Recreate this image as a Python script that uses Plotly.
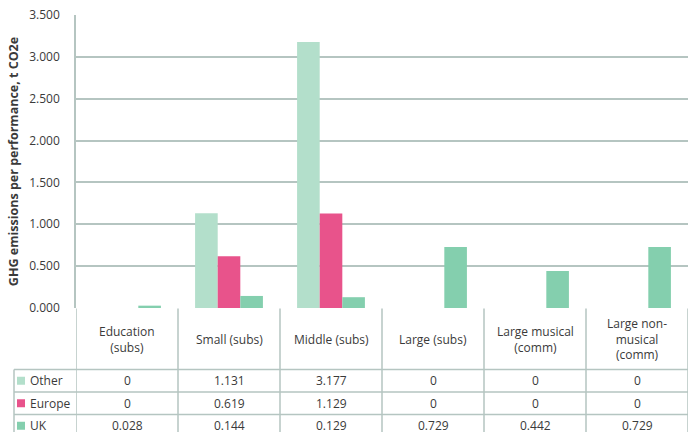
import plotly.graph_objects as go

categories = ["Education (subs)", "Small (subs)", "Middle (subs)", "Large (subs)",
              "Large musical (comm)", "Large non-musical (comm)"]
category_labels = ["Education<br>(subs)", "Small (subs)", "Middle (subs)", "Large (subs)",
                   "Large musical<br>(comm)", "Large non-<br>musical<br>(comm)"]
series_names = ["Other", "Europe", "UK"]
other = [0, 1.131, 3.177, 0, 0, 0]
europe = [0, 0.619, 1.129, 0, 0, 0]
uk = [0.028, 0.144, 0.129, 0.729, 0.442, 0.729]
table_text = {
    "Other": ["0", "1.131", "3.177", "0", "0", "0"],
    "Europe": ["0", "0.619", "1.129", "0", "0", "0"],
    "UK": ["0.028", "0.144", "0.129", "0.729", "0.442", "0.729"],
}
colors = {"Other": "#b3dfcb", "Europe": "#e8538b", "UK": "#84cfae"}
y_ticks = [0, 0.5, 1, 1.5, 2, 2.5, 3, 3.5]
y_ticklabels = ["0.000", "0.500", "1.000", "1.500", "2.000", "2.500", "3.000", "3.500"]

W, H = 688, 432
ML, MR, MT, MB = 76, 0, 15, 124
PW, PH = W - ML - MR, H - MT - MB
FONT = "Open Sans"
TXT = "#3a3a3a"
LINE = "#b5c5c1"

def py(p):  # pixel y -> paper y
    return (H - MB - p) / PH

def px(p):  # pixel x -> paper x
    return (p - ML) / PW

fig = go.Figure()
for name, vals in zip(series_names, [other, europe, uk]):
    fig.add_trace(go.Bar(x=list(range(len(categories))), y=vals, name=name,
                         marker=dict(color=colors[name], line=dict(width=0)),
                         showlegend=False))

shapes = []
annotations = []
n = len(categories)
row_y = [369.5, 392, 414.5, 437]
# vertical lines of table
for k in range(n + 1):
    shapes.append(dict(type="line", xref="x", yref="paper", x0=k - 0.5, x1=k - 0.5,
                       y0=py(308.5), y1=py(432), line=dict(color=LINE, width=1.5)))
# left edge of row labels
shapes.append(dict(type="line", xref="paper", yref="paper", x0=px(14), x1=px(14),
                   y0=py(row_y[0]), y1=py(432), line=dict(color=LINE, width=1.5)))
# horizontal lines
for r in row_y:
    shapes.append(dict(type="line", xref="paper", yref="paper", x0=px(14), x1=1,
                       y0=py(r), y1=py(r), line=dict(color=LINE, width=1.5)))
# category header labels
for i, lab in enumerate(category_labels):
    annotations.append(dict(xref="x", yref="paper", x=i, y=py(339), text=lab,
                            showarrow=False, xanchor="center", yanchor="middle",
                            font=dict(family=FONT, size=12, color=TXT)))
# rows
for j, name in enumerate(series_names):
    yc = (row_y[j] + row_y[j + 1]) / 2
    shapes.append(dict(type="rect", xref="paper", yref="paper", x0=px(17), x1=px(25),
                       y0=py(yc + 4), y1=py(yc - 4), fillcolor=colors[name],
                       line=dict(width=0)))
    annotations.append(dict(xref="paper", yref="paper", x=px(28), y=py(yc), text=name,
                            showarrow=False, xanchor="left", yanchor="middle",
                            font=dict(family=FONT, size=12, color=TXT)))
    for i in range(n):
        annotations.append(dict(xref="x", yref="paper", x=i, y=py(yc),
                                text=table_text[name][i], showarrow=False,
                                xanchor="center", yanchor="middle",
                                font=dict(family=FONT, size=12, color=TXT)))

fig.update_layout(
    width=W, height=H,
    margin=dict(l=ML, r=MR, t=MT, b=MB, pad=0),
    paper_bgcolor="white", plot_bgcolor="white",
    barmode="group", bargap=0.335, bargroupgap=0,
    xaxis=dict(range=[-0.5, n - 0.5], showticklabels=False, showgrid=False,
               zeroline=False, showline=False, ticks=""),
    yaxis=dict(range=[0, 3.5], tickvals=y_ticks, ticktext=y_ticklabels,
               showgrid=True, gridcolor=LINE, gridwidth=1.5,
               showline=True, linecolor=LINE, linewidth=1.5, zeroline=False,
               ticks="", ticklabelstandoff=12,
               tickfont=dict(family=FONT, size=12, color=TXT),
               title=dict(text="GHG emissions per performance, t CO2e", standoff=8,
                          font=dict(family=FONT, size=12.5, color=TXT, weight="bold"))),
    shapes=shapes, annotations=annotations,
)
fig.write_html("out.html")
